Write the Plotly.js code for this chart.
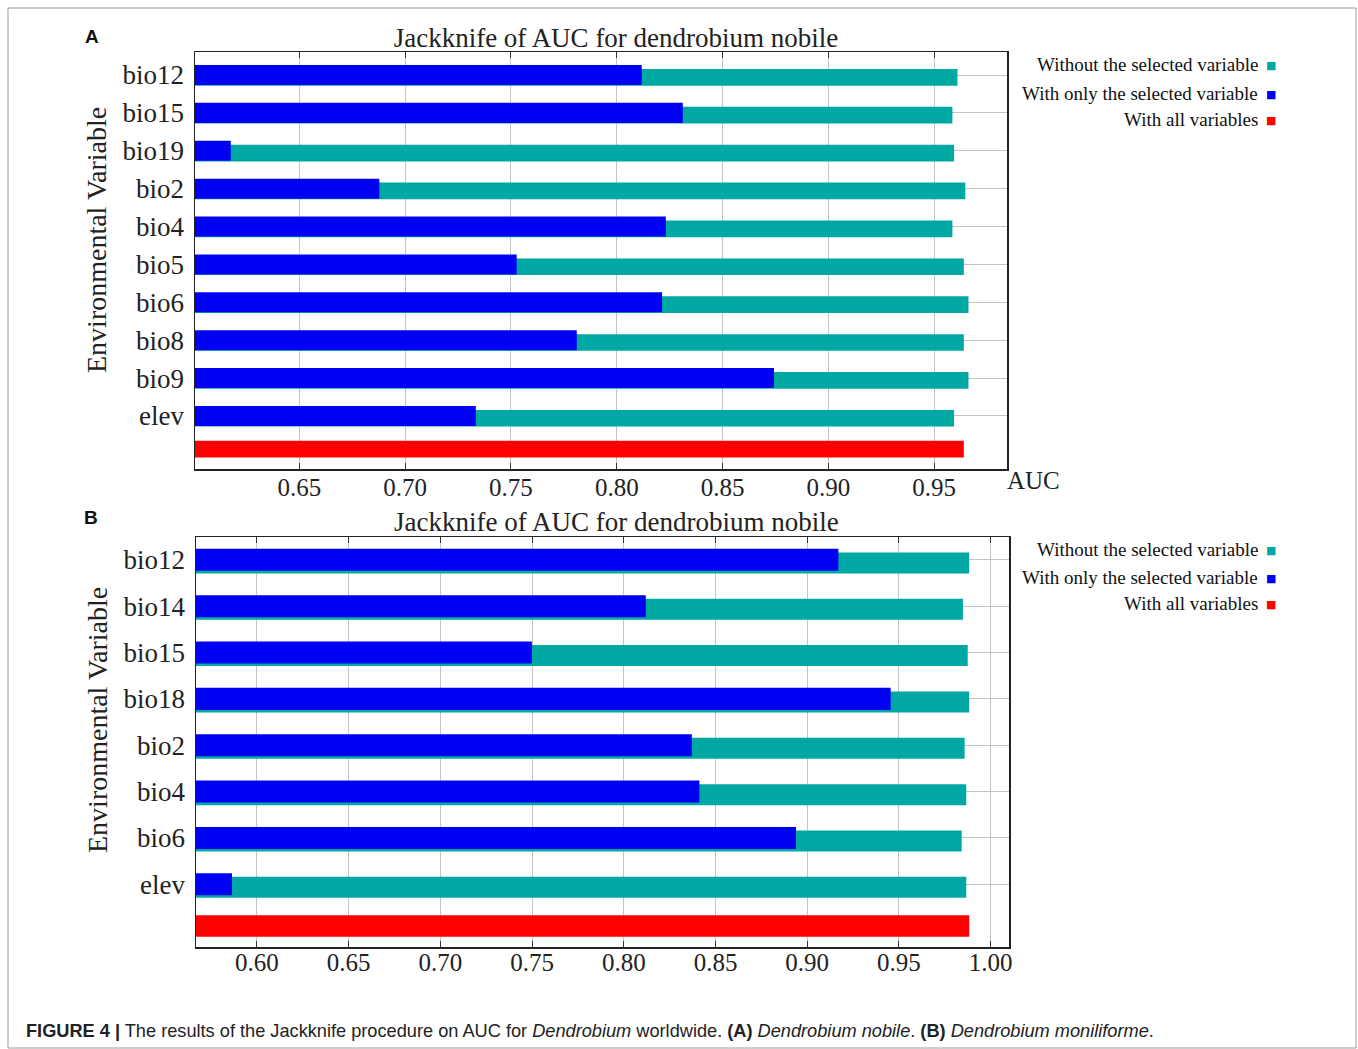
<!DOCTYPE html>
<html>
<head>
<meta charset="utf-8">
<script src="https://cdn.plot.ly/plotly-3.0.1.min.js"></script>
<style>
html,body{margin:0;padding:0;background:#fff;}
#chart{width:1358px;height:1049px;}
</style>
</head>
<body>
<div id="chart"></div>
<script>
// ---- Data ----
const catsA = ['bio12','bio15','bio19','bio2','bio4','bio5','bio6','bio8','bio9','elev'];
const withoutA = [0.9610,0.9586,0.9594,0.9647,0.9586,0.9640,0.9662,0.9640,0.9662,0.9594];
const onlyA = [0.8118,0.8312,0.6176,0.6878,0.8232,0.7527,0.8214,0.7811,0.8743,0.7334];
const allA = [0.9640];

const catsB = ['bio12','bio14','bio15','bio18','bio2','bio4','bio6','elev'];
const withoutB = [0.9883,0.9849,0.9875,0.9883,0.9858,0.9867,0.9842,0.9867];
const onlyB = [0.9170,0.8120,0.7499,0.9455,0.8371,0.8412,0.8939,0.5864];
const allB = [0.9883];

const legendLabels = ['Without the selected variable','With only the selected variable','With all variables'];
const panelTitle = 'Jackknife of AUC for dendrobium nobile';
const yTitle = 'Environmental Variable';
const ticksA = [0.65,0.70,0.75,0.80,0.85,0.90,0.95];
const ticksB = [0.60,0.65,0.70,0.75,0.80,0.85,0.90,0.95,1.00];

// ---- Styles ----
const TEAL = '#00a8a4', BLUE = '#0000f2', RED = '#ff0000';
const SERIF = 'Liberation Serif, Times New Roman, serif';
const SANS = 'Liberation Sans, Arial, sans-serif';
const W = 1358, H = 1049;
const px = v => v / W;
const py = v => 1 - v / H;

const idx = arr => arr.map((_, i) => i);

const traces = [
  // Panel A
  {type:'bar', orientation:'h', x: withoutA, y: idx(catsA), xaxis:'x', yaxis:'y',
   marker:{color:TEAL}, width:0.44, offset:-0.16, name: legendLabels[0], showlegend:false, hoverinfo:'x'},
  {type:'bar', orientation:'h', x: onlyA, y: idx(catsA), xaxis:'x', yaxis:'y',
   marker:{color:BLUE}, width:0.53, offset:-0.265, name: legendLabels[1], showlegend:false, hoverinfo:'x'},
  {type:'bar', orientation:'h', x: allA, y: [catsA.length], xaxis:'x', yaxis:'y',
   marker:{color:RED}, width:0.44, offset:-0.344, name: legendLabels[2], showlegend:false, hoverinfo:'x'},
  // Panel B
  {type:'bar', orientation:'h', x: withoutB, y: idx(catsB), xaxis:'x2', yaxis:'y2',
   marker:{color:TEAL}, width:0.453, offset:-0.16, name: legendLabels[0], showlegend:false, hoverinfo:'x'},
  {type:'bar', orientation:'h', x: onlyB, y: idx(catsB), xaxis:'x2', yaxis:'y2',
   marker:{color:BLUE}, width:0.475, offset:-0.2375, name: legendLabels[1], showlegend:false, hoverinfo:'x'},
  {type:'bar', orientation:'h', x: allB, y: [catsB.length], xaxis:'x2', yaxis:'y2',
   marker:{color:RED}, width:0.468, offset:-0.334, name: legendLabels[2], showlegend:false, hoverinfo:'x'}
];

function xAxis(domain, range, ticks, anchor, standoff) {
  return {
    domain: domain, range: range, anchor: anchor,
    tickvals: ticks, ticktext: ticks.map(t => t.toFixed(2)),
    ticks: 'inside', ticklen: 6, tickwidth: 1, tickcolor: '#333',
    showline: true, linecolor: '#222', linewidth: 1.5, mirror: 'ticks',
    showgrid: true, gridcolor: '#c4c4c4', gridwidth: 1, zeroline: false,
    tickfont: {family: SERIF, size: 25, color: '#222'},
    ticklabelstandoff: standoff,
    fixedrange: true
  };
}
function yAxis(domain, range, cats, anchor) {
  return {
    domain: domain, range: range, anchor: anchor,
    tickvals: idx(cats), ticktext: cats,
    ticks: '', showline: true, linecolor: '#222', linewidth: 1.5, mirror: true,
    showgrid: true, gridcolor: '#c4c4c4', gridwidth: 1, zeroline: false,
    tickfont: {family: SERIF, size: 27, color: '#222'},
    ticklabelstandoff: 4,
    fixedrange: true
  };
}

const annotations = [];
function legendAnn(yPixels) {
  const cols = [TEAL, BLUE, RED];
  legendLabels.forEach((t, i) => {
    annotations.push({
      xref:'paper', yref:'paper', x: px(1260), y: py(yPixels[i]),
      xanchor:'right', yanchor:'middle', showarrow:false,
      text: t, font:{family: SERIF, size: 19, color:'#111'}
    });
    annotations.push({
      xref:'paper', yref:'paper', x: px(1270.5), y: py(yPixels[i] + 1),
      xanchor:'center', yanchor:'middle', showarrow:false,
      text: '■', font:{family: 'DejaVu Sans', size: 11, color: cols[i]}
    });
  });
}
legendAnn([65, 93, 120]);
legendAnn([549, 577, 603]);

// Panel B title
annotations.push({xref:'paper', yref:'paper', x: px(616), y: py(522), xanchor:'center', yanchor:'middle',
  showarrow:false, text: panelTitle, font:{family: SERIF, size: 27, color:'#222'}});
// Y titles
annotations.push({xref:'paper', yref:'paper', x: px(97), y: py(240), xanchor:'center', yanchor:'middle',
  showarrow:false, textangle:-90, text: yTitle, font:{family: SERIF, size: 28, color:'#222'}});
annotations.push({xref:'paper', yref:'paper', x: px(97), y: py(720), xanchor:'center', yanchor:'middle',
  showarrow:false, textangle:-90, text: yTitle, font:{family: SERIF, size: 28, color:'#222'}});
// AUC label (panel A)
annotations.push({xref:'paper', yref:'paper', x: px(1005), y: py(481), xanchor:'left', yanchor:'middle',
  showarrow:false, text:'AUC', font:{family: SERIF, size: 25, color:'#222'}});
// Panel letters
annotations.push({xref:'paper', yref:'paper', x: px(92), y: py(37), xanchor:'center', yanchor:'middle',
  showarrow:false, text:'<b>A</b>', font:{family: SANS, size: 19, color:'#111'}});
annotations.push({xref:'paper', yref:'paper', x: px(91), y: py(517), xanchor:'center', yanchor:'middle',
  showarrow:false, text:'<b>B</b>', font:{family: SANS, size: 19, color:'#111'}});
// Caption
annotations.push({xref:'paper', yref:'paper', x: px(24), y: py(1031), xanchor:'left', yanchor:'middle',
  showarrow:false,
  text:'<b>FIGURE 4 |</b> The results of the Jackknife procedure on AUC for <i>Dendrobium</i> worldwide. <b>(A)</b> <i>Dendrobium nobile</i>. <b>(B)</b> <i>Dendrobium moniliforme</i>.',
  font:{family: SANS, size: 18.2, color:'#222'}});

const layout = {
  width: W, height: H,
  margin: {l:0, r:0, t:0, b:0},
  paper_bgcolor: '#fff', plot_bgcolor: '#fff',
  barmode: 'overlay',
  title: {text: panelTitle, x: px(616), xanchor:'center', y: py(38), yanchor:'middle', yref:'paper',
          font:{family: SERIF, size: 27, color:'#222'}},
  xaxis: xAxis([px(195), px(1007)], [0.6007, 0.9844], ticksA, 'y', -5),
  yaxis: yAxis([py(469), py(52.3)], [10.40, -0.60], catsA, 'x'),
  xaxis2: xAxis([px(196), px(1009)], [0.5668, 1.0100], ticksB, 'y2', -8),
  yaxis2: yAxis([py(947.3), py(537.3)], [8.36, -0.486], catsB, 'x2'),
  annotations: annotations,
  shapes: [
    {type:'rect', xref:'paper', yref:'paper', x0: px(8), x1: px(1356), y0: py(1048), y1: py(8),
     line:{color:'#9a9a9a', width:1}, fillcolor:'rgba(0,0,0,0)', layer:'below'}
  ],
  showlegend: false
};

Plotly.newPlot('chart', traces, layout, {staticPlot: true, displayModeBar: false});
</script>
</body>
</html>
